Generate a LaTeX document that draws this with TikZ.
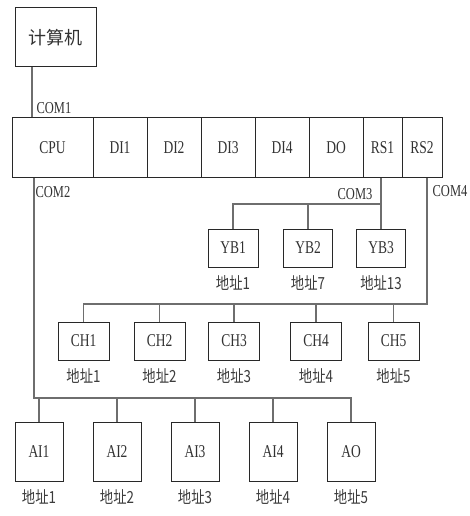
\documentclass[tikz,border=0pt]{standalone}
\usepackage{fontspec}
\setmainfont{Liberation Serif}[FakeStretch=0.75]
\newfontfamily\cjk{Noto Sans CJK SC}
\newfontfamily\cjknarrow{Noto Sans CJK SC}[FakeStretch=0.8]
\usetikzlibrary{positioning}

\tikzset{every picture/.style={line width=0.75pt}}
\tikzset{
  unit/.style 2 args={draw={rgb,255:red,40;green,40;blue,40}, inner sep=0pt,
    minimum width=#1*0.75pt, minimum height=#2*0.75pt,
    font=\fontsize{13.5}{15}\selectfont, text={rgb,255:red,50;green,50;blue,50}},
  wire/.style={draw={rgb,255:red,110;green,110;blue,110}, line width=1.1pt},
  addr/.style={font=\cjknarrow\fontsize{12.5}{14}\selectfont, text={rgb,255:red,60;green,60;blue,60}},
  port/.style={font=\fontsize{12.5}{14}\selectfont, text={rgb,255:red,50;green,50;blue,50}}
}

\begin{document}
\begin{tikzpicture}[x=0.75pt,y=0.75pt,yscale=-1,xscale=1]
	\useasboundingbox (0,0) rectangle (469,516);

	%Shape: Rectangle (computer)
	\node[unit={81}{59}, font=\cjk\fontsize{13.5}{15}\selectfont] (pc) at (55.5,37.5) {计算机};

	%Shape: Rectangle (module rack)
	\node[unit={81}{60}] (cpu) at (52.5,148) {CPU};
	\node[unit={54}{60}] (di1) at (120,148) {DI1};
	\node[unit={54}{60}] (di2) at (174,148) {DI2};
	\node[unit={54}{60}] (di3) at (228,148) {DI3};
	\node[unit={54}{60}] (di4) at (282,148) {DI4};
	\node[unit={54}{60}] (do) at (336,148) {DO};
	\node[unit={39}{60}] (rs1) at (382.5,148) {RS1};
	\node[unit={40}{60}] (rs2) at (422,148) {RS2};

	%Shape: Rectangle (instruments on COM3)
	\node[unit={50}{38}] (yb1) at (233,248) {YB1};
	\node[unit={49}{38}] (yb2) at (308,248) {YB2};
	\node[unit={49}{38}] (yb3) at (381,248) {YB3};

	%Shape: Rectangle (channels on COM4)
	\node[unit={51}{38}] (ch1) at (83.5,341) {CH1};
	\node[unit={51}{38}] (ch2) at (159.5,341) {CH2};
	\node[unit={51}{38}] (ch3) at (234,341) {CH3};
	\node[unit={51}{38}] (ch4) at (316,341) {CH4};
	\node[unit={51}{38}] (ch5) at (393.5,341) {CH5};

	%Shape: Rectangle (analog modules on COM2)
	\node[unit={48}{59}] (ai1) at (39,451.5) {AI1};
	\node[unit={48}{59}] (ai2) at (117,451.5) {AI2};
	\node[unit={48}{59}] (ai3) at (195,451.5) {AI3};
	\node[unit={48}{59}] (ai4) at (273,451.5) {AI4};
	\node[unit={48}{59}] (ao) at (351,451.5) {AO};

	%Straight Lines (buses)
	\coordinate (ybbus) at (0,204);
	\coordinate (chbus) at (0,304);
	\coordinate (aibus) at (0,398);

	% COM1
	\draw[wire] (pc.south -| 32,0) -- (cpu.north -| 32,0);
	% COM3
	\draw[wire] (rs1.south -| yb3.north) -- (yb3.north);
	\draw[wire] (yb1.north) |- (yb3.north |- ybbus);
	\draw[wire] (yb2.north) -- (yb2.north |- ybbus);
	% COM4
	\draw[wire] (rs2.south -| 427,0) |- (ch1.north |- chbus) -- (ch1.north);
	\foreach \n in {ch2,ch3,ch4,ch5}
		\draw[wire] (\n.north) -- (\n.north |- chbus);
	% COM2
	\draw[wire] (cpu.south -| 34,0) |- (ao.north |- aibus) -- (ao.north);
	\foreach \n in {ai1,ai2,ai3,ai4}
		\draw[wire] (\n.north) -- (\n.north |- aibus);

	% Text Node
	\node[port] (com1) at (54,108) {COM1};
	% Text Node
	\node[port] (com2) at (53,192) {COM2};
	% Text Node
	\node[port] (com3) at (355,194) {COM3};
	% Text Node
	\node[port] (com4) at (450,191) {COM4};

	% Text Node
	\node[addr, below=2pt of yb1] (yb1a) {地址1};
	\node[addr, below=2pt of yb2] (yb2a) {地址7};
	\node[addr, below=2pt of yb3] (yb3a) {地址13};
	% Text Node
	\foreach \n/\k in {ch1/1,ch2/2,ch3/3,ch4/4,ch5/5}
		\node[addr, below=2pt of \n] (\n a) {地址\k};
	% Text Node
	\foreach \n/\k in {ai1/1,ai2/2,ai3/3,ai4/4,ao/5}
		\node[addr, below=2pt of \n] (\n a) {地址\k};

\end{tikzpicture}
\end{document}
